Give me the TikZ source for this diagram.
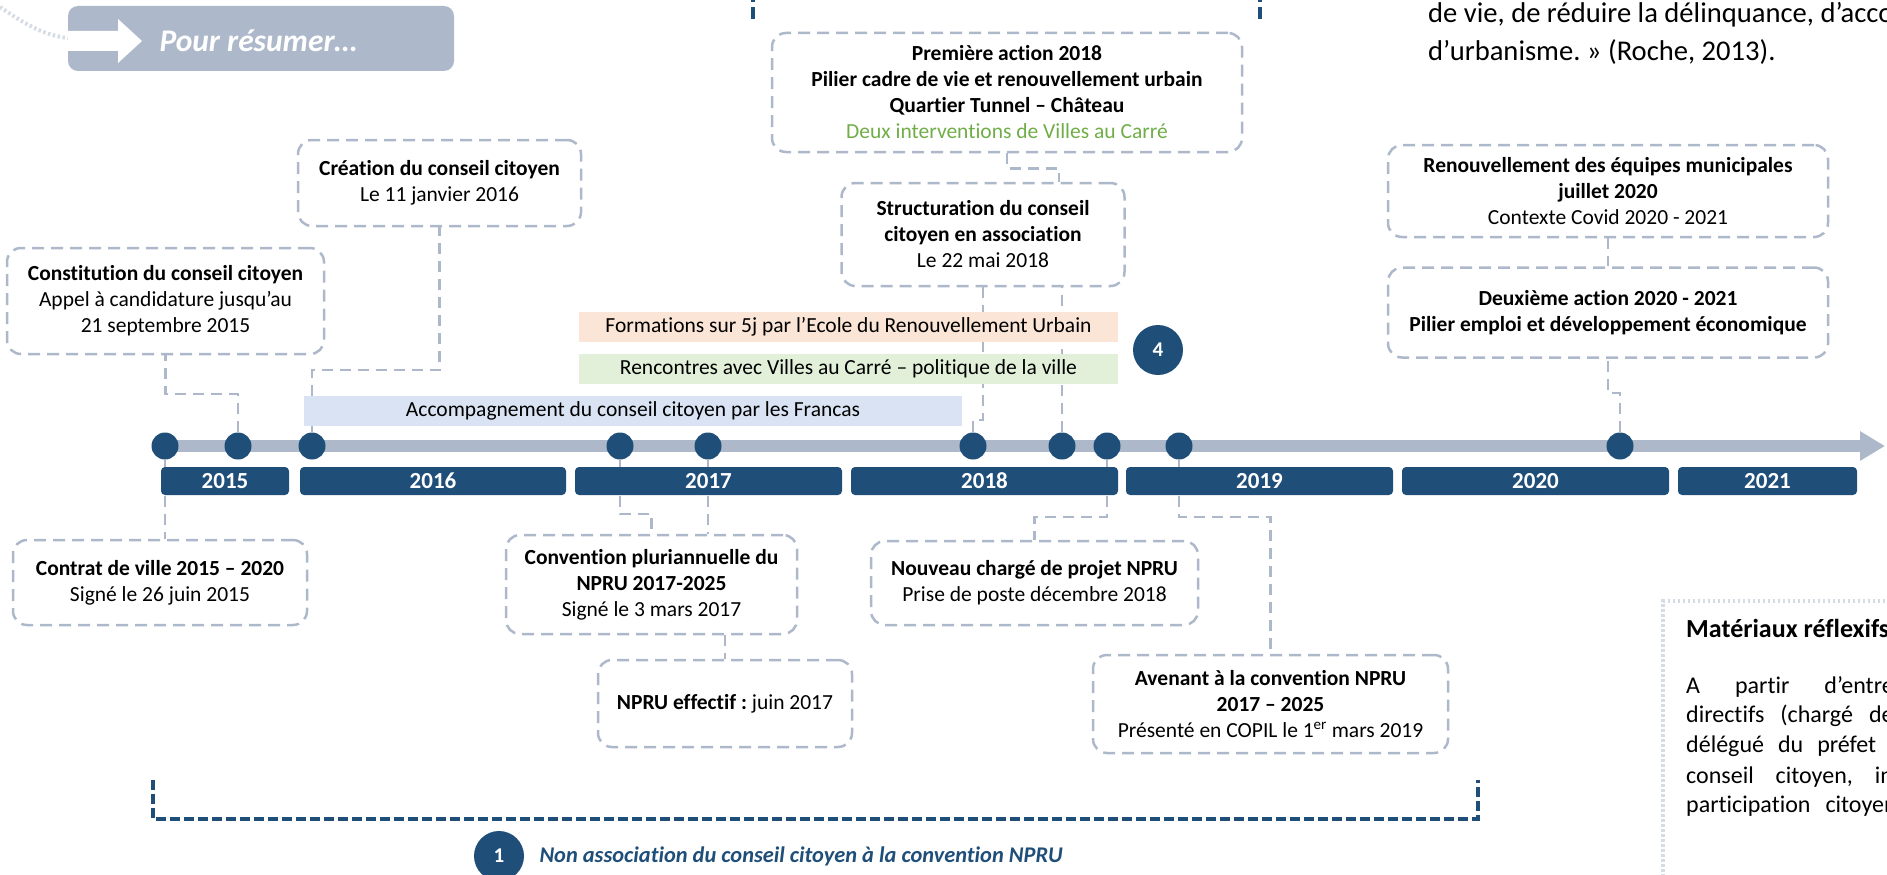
\documentclass[tikz,border=0pt]{standalone}
\usepackage{fontspec}
\setmainfont{Carlito}[Ligatures=NoCommon]
\usetikzlibrary{positioning}
\usetikzlibrary{arrows.meta}
\frenchspacing

\definecolor{navy}{HTML}{1F4E79}
\definecolor{greyblue}{HTML}{ADB9CA}
\definecolor{leafgreen}{HTML}{70AD47}
\definecolor{peach}{HTML}{FBE5D6}
\definecolor{mint}{HTML}{E2F0D9}
\definecolor{skyband}{HTML}{DAE3F3}
\definecolor{dotgrey}{HTML}{D6DCE5}

\begin{document}
\begin{tikzpicture}[x=1pt, y=-1pt,
			event/.style={draw=greyblue, line width=2.5pt, dash pattern=on 12pt off 7pt, rounded corners=14pt, align=center, inner sep=2pt, font=\fontsize{21.5}{26}\selectfont},
			link/.style={draw=greyblue, line width=2.5pt, dash pattern=on 11pt off 7pt},
			band/.style={rectangle, inner sep=0pt, minimum height=30pt, font=\fontsize{21.5}{26}\selectfont},
			year/.style={rectangle, fill=navy, rounded corners=4pt, inner sep=0pt, minimum height=28pt, text=white, font=\fontsize{23}{26}\selectfont\bfseries},
			dot/.style={circle, fill=navy, minimum size=27pt, inner sep=0pt},
			badge/.style={circle, fill=navy, minimum size=50pt, inner sep=0pt, text=white, font=\fontsize{21}{26}\selectfont\bfseries},
			prose/.style={anchor=west, inner sep=0pt, font=\fontsize{24}{30}\selectfont}
			]
			\useasboundingbox (0,0) rectangle (1887,875);
			\clip (0,0) rectangle (1887,875);
			
			% Header
			\draw[dotgrey, line width=4pt, dash pattern=on 2.5pt off 2.5pt] (0,7) .. controls (22,22) and (42,35) .. (68,38);
			\fill[greyblue, rounded corners=10pt] (68,6) rectangle (454,71);
			\fill[white] (68,31) -- (118,31) -- (118,19) -- (142,41) -- (118,63) -- (118,51) -- (68,51) -- cycle;
			\node[anchor=west, text=white, font=\fontsize{31.5}{36}\selectfont\bfseries\itshape] (resume) at (156,41) {Pour résumer…};
			\draw[navy, line width=4pt, dash pattern=on 12pt off 5pt] (753,19) -- (753,-10);
			\draw[navy, line width=4pt, dash pattern=on 12pt off 5pt] (1260,19) -- (1260,-10);
			
			% Timeline
			\coordinate (tstart) at (165,446);
			\coordinate (tend) at (1885,446);
			\draw[greyblue, line width=12pt, -{Triangle[length=25pt,width=28pt]}] (tstart) -- (tend);
			\foreach \x [count=\i] in {165,238,312,620,708,973,1062,1107,1179,1620}
			\node[dot] (d\i) at (\x,446) {};
			
			% Events above
			\node[event, minimum width=317pt, minimum height=106pt] (constit) at (165.5,301) {\textbf{Constitution du conseil citoyen}\\Appel à candidature jusqu’au\\21 septembre 2015};
			\node[event, minimum width=283pt, minimum height=86pt] (creation) at (439.5,183) {\textbf{Création du conseil citoyen}\\Le 11 janvier 2016};
			\node[event, minimum width=470pt, minimum height=119pt] (premiere) at (1007,92.5) {\textbf{Première action 2018}\\\textbf{Pilier cadre de vie et renouvellement urbain}\\\textbf{Quartier Tunnel – Château}\\\textcolor{leafgreen}{Deux interventions de Villes au Carré}};
			\node[event, minimum width=283pt, minimum height=103pt] (structu) at (983,234.5) {\textbf{Structuration du conseil}\\\textbf{citoyen en association}\\Le 22 mai 2018};
			\node[event, minimum width=440pt, minimum height=92pt] (renouv) at (1608,191) {\textbf{Renouvellement des équipes municipales}\\\textbf{juillet 2020}\\Contexte Covid 2020 - 2021};
			\node[event, minimum width=440pt, minimum height=90pt, below=28pt of renouv] (deux) {\textbf{Deuxième action 2020 - 2021}\\\textbf{Pilier emploi et développement économique}};
			
			% Events below
			\node[event, minimum width=294pt, minimum height=85pt] (contrat) at (160,582.5) {\textbf{Contrat de ville 2015 – 2020}\\Signé le 26 juin 2015};
			\node[event, minimum width=291pt, minimum height=99pt] (convention) at (651.5,584.5) {\textbf{Convention pluriannuelle du}\\\textbf{NPRU 2017-2025}\\Signé le 3 mars 2017};
			\node[event, minimum width=254pt, minimum height=87pt] (effectif) at (725,703.5) {\textbf{NPRU effectif :} juin 2017};
			\node[event, minimum width=327pt, minimum height=84pt] (nouveau) at (1034.5,583) {\textbf{Nouveau chargé de projet NPRU}\\Prise de poste décembre 2018};
			\node[event, minimum width=355pt, minimum height=98pt] (avenant) at (1270.5,704) {\textbf{Avenant à la convention NPRU}\\\textbf{2017 – 2025}\\Présenté en COPIL le 1\textsuperscript{er} mars 2019};
			
			% Connections
			\draw[link] (d1) -- (contrat.north -| d1);
			\draw[link] (d2) -- ++(0,-52) -| (constit.south);
			\draw[link] (d3) -- ++(0,-76) -| (creation.south);
			\draw[link] (d4) -- ++(0,68) -| (convention.north);
			\draw[link] (d5) -- (convention.north -| d5);
			\draw[link] (convention.south -| effectif.north) -- (effectif.north);
			\draw[link] (d6) -- ++(0,-26) -| (structu.south);
			\draw[link] (d7) -- (structu.south -| d7);
			\draw[link] (premiere.south) -- ++(0,15) -| ([xshift=76pt]structu.north);
			\draw[link] (d8) -- ++(0,71) -| (nouveau.north);
			\draw[link] (d9) -- ++(0,71) -| (avenant.north);
			\draw[link] (d10) -- ++(0,-53) -| (deux.south);
			\draw[link] (renouv) -- (deux);
			
			% Periods
			\node[band, fill=peach, minimum width=539pt] (formation) at (848.5,326.5) {Formations sur 5j par l’Ecole du Renouvellement Urbain};
			\node[band, fill=mint, minimum width=539pt] (rencontre) at (848.5,369) {Rencontres avec Villes au Carré – politique de la ville};
			\node[band, fill=skyband, minimum width=658pt] (francas) at (633,411) {Accompagnement du conseil citoyen par les Francas};
			\node[badge] (b4) at (1158,350) {4};
			
			% Years
			\foreach \yr/\cx/\w in {2015/225/128pt, 2016/433/266pt, 2017/708.5/267pt, 2018/984.5/267pt, 2019/1259.5/267pt, 2020/1535.5/267pt, 2021/1767.5/179pt}
			\node[year, minimum width=\w] (y\yr) at (\cx,481) {\yr};
			
			% Bracket
			\draw[navy, line width=4pt, dash pattern=on 10pt off 4pt] (153,780) -- (153,819) -- (1478,819) -- (1478,780);
			\node[badge] (b1) at (499,856) {1};
			\node[anchor=west, text=navy, font=\fontsize{22.4}{28}\selectfont\bfseries\itshape] (nonassoc) at (536,856) {Non association du conseil citoyen à la convention NPRU};
			
			% Page text on the right
			\node[prose, font=\fontsize{28.6}{34}\selectfont] (citeA) at (1428,15) {de vie, de réduire la délinquance, d’accompagner};
			\node[prose, font=\fontsize{28.6}{34}\selectfont] (citeB) at (1428,52) {d’urbanisme. » (Roche, 2013).};
			\draw[dotgrey, line width=4pt, dash pattern=on 2.5pt off 2.5pt] (1900,601) -- (1663,601) -- (1663,890);
			\node[prose, font=\fontsize{26}{30}\selectfont\bfseries] (mattitle) at (1686,628) {Matériaux réflexifs};
			\node[prose] (ml1) at (1686,687) {A\hspace{35pt}partir\hspace{35pt}d’entretiens};
			\node[prose] (ml2) at (1686,716) {directifs\hspace{16pt}(chargé\hspace{16pt}de projet};
			\node[prose] (ml3) at (1686,746) {délégué\hspace{14pt}du\hspace{14pt}préfet};
			\node[prose] (ml4) at (1686,777) {conseil\hspace{22pt}citoyen,\hspace{22pt}intervenants};
			\node[prose] (ml5) at (1686,806) {participation\hspace{15pt}citoyenne};
		\end{tikzpicture}
\end{document}
